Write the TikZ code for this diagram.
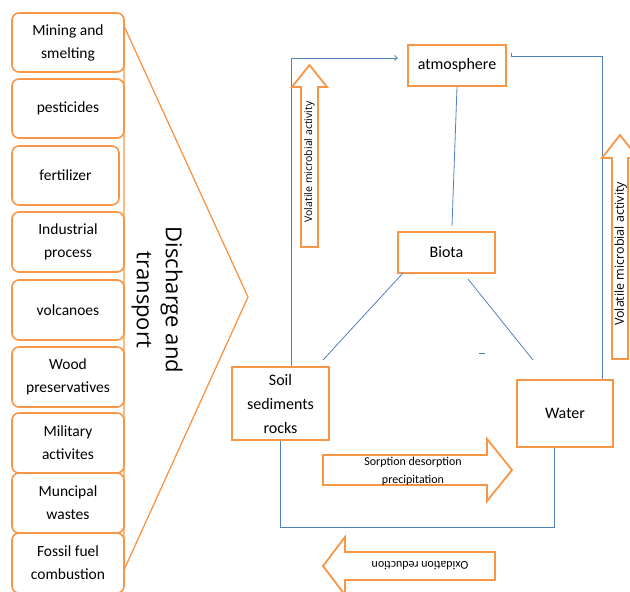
\documentclass[tikz,border=0pt]{standalone}
\usepackage{fontspec}
\setmainfont{Carlito}
\newfontfamily\osans{Open Sans}
\usetikzlibrary{arrows.meta}
\definecolor{orng}{HTML}{F79646}
\definecolor{bline}{HTML}{4F81BD}
\begin{document}
\begin{tikzpicture}[x=1pt,y=-1pt,
  src/.style={draw=orng, line width=1.6pt, rounded corners=7pt, minimum width=112pt, minimum height=59pt, align=center, inner sep=0pt, font=\fontsize{15.5}{23}\selectfont},
  comp/.style={draw=orng, line width=2pt, align=center, inner sep=0pt, font=\fontsize{16}{24}\selectfont},
  blk/.style={draw=orng, line width=1.8pt, fill=white, line join=miter},
  bl/.style={draw=bline, line width=0.8pt},
  small/.style={font=\fontsize{12}{18}\selectfont, align=center, inner sep=0pt},
  vol/.style={font=\osans\fontsize{10.5}{12}\selectfont, inner sep=0pt}]
\useasboundingbox (0,0) rectangle (630,592);
\clip (0,0) rectangle (630,592);
% source boxes
\node[src] (s1) at (68,42.5) {Mining and\\smelting};
\node[src] (s2) at (68,108.5) {pesticides};
\node[src, minimum width=107pt] (s3) at (65.5,175.5) {fertilizer};
\node[src, minimum height=60pt] (s4) at (68,242) {Industrial\\process};
\node[src, minimum height=60pt] (s5) at (68,310) {volcanoes};
\node[src, minimum height=60pt] (s6) at (68,377) {Wood\\preservatives};
\node[src, minimum height=60pt] (s7) at (68,443) {Military\\activites};
\node[src, minimum height=60pt] (s8) at (68,503) {Muncipal\\wastes};
\node[src, minimum height=60pt] (s9) at (68,563) {Fossil fuel\\combustion};
% chevron
\coordinate (c1) at (124,26);
\coordinate (c2) at (248,297);
\coordinate (c3) at (124,570);
\draw[orng, line width=1.3pt] (c1) -- (c2) -- (c3) -- cycle;
\node[rotate=-90, align=center, font=\osans\fontsize{22}{29}\selectfont] (dt) at (157,300) {Discharge and\\transport};
% compartments
\node[comp, minimum width=98pt, minimum height=41pt] (atm) at (457,65.5) {atmosphere};
\node[comp, minimum width=97pt, minimum height=41pt] (biota) at (446.5,252.5) {Biota};
\node[comp, minimum width=97pt, minimum height=73pt] (soil) at (280.5,403.5) {Soil\\sediments\\rocks};
\node[comp, minimum width=96pt, minimum height=67pt] (water) at (565,413.5) {Water};
% blue connectors
\coordinate (bt) at (452,226);
\coordinate (bs1) at (403,273);
\coordinate (bs2) at (323,360);
\coordinate (bw1) at (468,279);
\coordinate (bw2) at (533,360);
\draw[bl] (atm.south) -- (bt);
\draw[bl] (bs1) -- (bs2);
\draw[bl] (bw1) -- (bw2);
\coordinate (d1) at (479,353);
\coordinate (d2) at (485,353);
\draw[bl] (d1) -- (d2);
\coordinate (lx) at (291,58);
\coordinate (la) at (398,58);
\draw[bl, -{Straight Barb[length=3pt,width=5pt]}] (soil.north -| lx) -- (lx) -- (la);
\coordinate (r0) at (511,53);
\coordinate (r1) at (511,56);
\coordinate (r2) at (602,56);
\draw[bl] (r0) -- (r1) -- (r2) -- (water.north -| r2);
\coordinate (b1) at (280,527);
\coordinate (b2) at (554,527);
\draw[bl] (soil.south -| b1) -- (b1) -- (b2) -- (water.south -| b2);
% block arrows
\draw[blk] (301,247) -- (301,87) -- (292,87) -- (309.5,65) -- (327,87) -- (318,87) -- (318,247) -- cycle;
\node[vol, rotate=90] (v1) at (309.5,162) {Volatile microbial activity};
\draw[blk] (612,359) -- (612,158) -- (602,158) -- (620,135) -- (638,158) -- (628,158) -- (628,359) -- cycle;
\node[vol, rotate=90, font=\osans\fontsize{12.5}{14}\selectfont] (v2) at (620.5,254) {Volatile microbial activity};
\draw[blk] (323,455) -- (487,455) -- (487,439) -- (512,470) -- (487,501) -- (487,485) -- (323,485) -- cycle;
\node[small] (sorp) at (413,471) {Sorption desorption\\precipitation};
\draw[blk] (495,552) -- (345,552) -- (345,537) -- (323,566) -- (345,595) -- (345,580) -- (495,580) -- cycle;
\node[small, rotate=180] (oxid) at (420,566) {Oxidation reduction};
\end{tikzpicture}
\end{document}
